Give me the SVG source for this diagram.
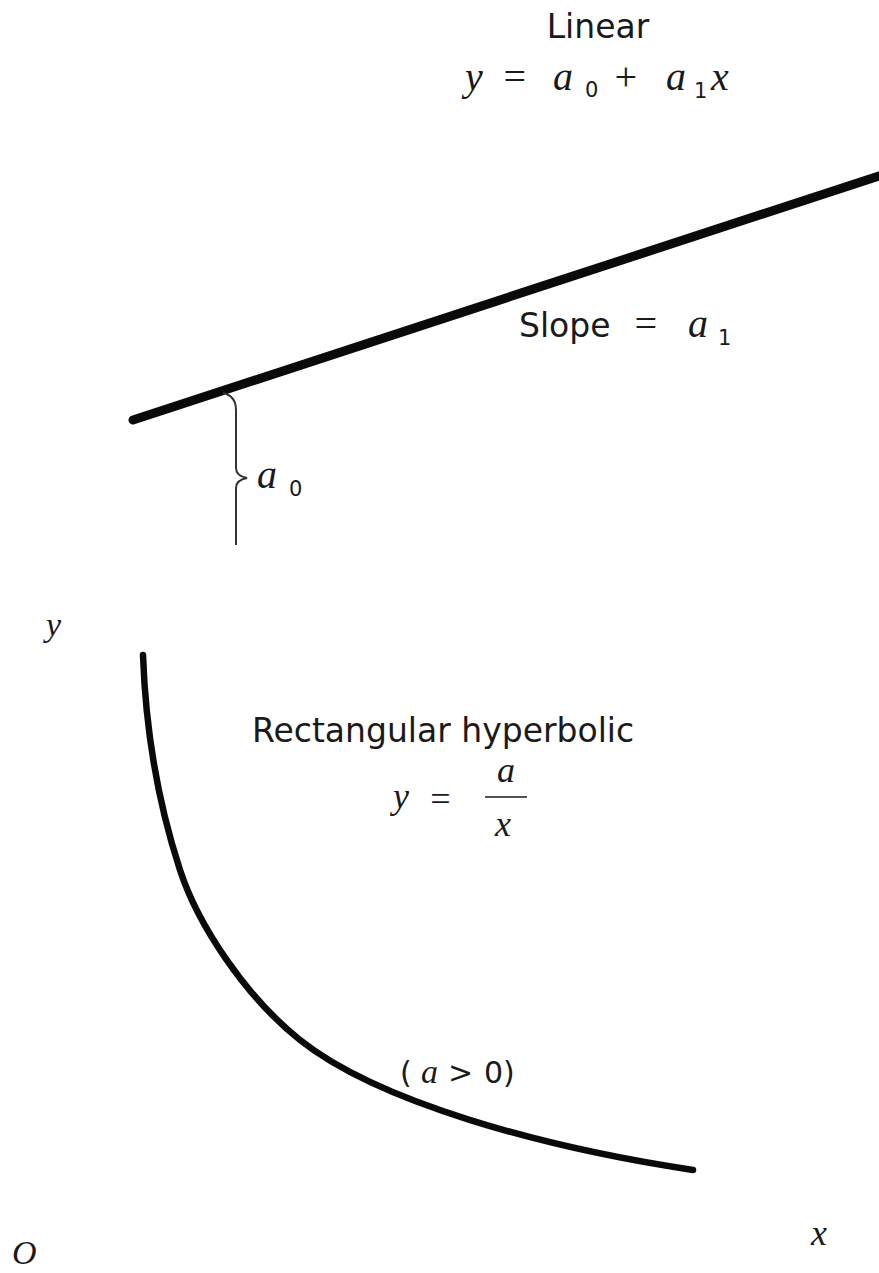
<svg xmlns="http://www.w3.org/2000/svg" width="879" height="1273" viewBox="0 0 879 1273">
<style>
.sans{font-family:"DejaVu Sans","Liberation Sans",sans-serif;fill:#1a1a1a}
.it{font-family:"Liberation Serif","DejaVu Serif",serif;font-style:italic;fill:#1a1a1a}
.sub{font-family:"DejaVu Sans","Liberation Sans",sans-serif;fill:#1a1a1a}
.curve{fill:none;stroke:#0a0a0a;stroke-linecap:round}
</style>
<rect width="879" height="1273" fill="#ffffff"/>
<g id="connectors">
  <line class="curve" x1="133" y1="420" x2="882" y2="175" stroke-width="9"/>
  <path class="curve" stroke-width="6.5" d="M143,655 C146,740 162,815 180,870 C198,925 245,996 300,1040 C378,1102 543,1147.5 693,1170"/>
  <path fill="none" stroke="#333" stroke-width="2" d="M223,393 Q236,396 236,410 L236,468 Q236,476 247,478 Q236,480 236,488 L236,545"/>
</g>
<g id="linear-label">
  <text class="sans" x="598" y="38" font-size="33" text-anchor="middle">Linear</text>
  <text class="it" x="465" y="90" font-size="40">y</text>
  <text class="it" x="501" y="90" font-size="40" font-style="normal">=</text>
  <text class="it" x="553" y="90" font-size="40">a</text>
  <text class="sub" x="585" y="97" font-size="21">0</text>
  <text class="it" x="612" y="90" font-size="40" font-style="normal">+</text>
  <text class="it" x="666" y="90" font-size="40">a</text>
  <text class="sub" x="694" y="98" font-size="21">1</text>
  <text class="it" x="711" y="90" font-size="40">x</text>
</g>
<g id="slope-label">
  <text class="sans" x="519" y="337" font-size="33">Slope</text>
  <text class="it" x="632" y="337" font-size="40" font-style="normal">=</text>
  <text class="it" x="688" y="337" font-size="40">a</text>
  <text class="sub" x="718" y="345" font-size="21">1</text>
</g>
<g id="intercept-label">
  <text class="it" x="257" y="488" font-size="40">a</text>
  <text class="sub" x="289" y="496" font-size="21">0</text>
</g>
<g id="hyperbolic-label">
  <text class="sans" x="252" y="742" font-size="33">Rectangular hyperbolic</text>
  <text class="it" x="393" y="808" font-size="36">y</text>
  <text class="it" x="428" y="811" font-size="36" font-style="normal">=</text>
  <text class="it" x="497" y="782" font-size="36">a</text>
  <line x1="485" y1="797" x2="527" y2="797" stroke="#1a1a1a" stroke-width="1.6"/>
  <text class="it" x="495" y="836" font-size="36">x</text>
</g>
<g id="condition-label">
  <text class="sans" x="400" y="1083" font-size="30">(</text>
  <text class="it" x="421" y="1083" font-size="34">a</text>
  <text class="sans" x="448" y="1083" font-size="30">&gt;</text>
  <text class="sans" x="484" y="1083" font-size="30">0)</text>
</g>
<g id="axes-labels">
  <text class="it" x="46" y="636" font-size="34">y</text>
  <text class="it" x="12" y="1264" font-size="34">O</text>
  <text class="it" x="811" y="1245" font-size="36">x</text>
</g>
</svg>
